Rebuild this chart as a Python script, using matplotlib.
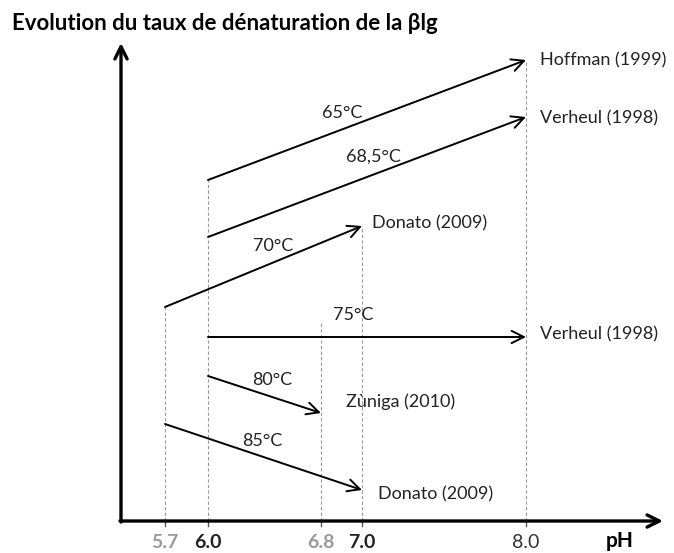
import numpy as np
import matplotlib.pyplot as plt

plt.rcParams['font.family'] = ['Lato', 'DejaVu Sans']

# pH start/end for each temperature, denaturation rate in arbitrary units
temps = ["65°C", "68,5°C", "70°C", "75°C", "80°C", "85°C"]
ph_start = [6.0, 6.0, 5.7, 6.0, 6.0, 5.7]
ph_end = [8.0, 8.0, 7.0, 8.0, 6.8, 7.0]
rate_start = [373, 316, 246, 216, 177, 129]
rate_end = [493, 436, 327, 216, 140, 63]
refs = ["Hoffman (1999)", "Verheul (1998)", "Donato (2009)", "Verheul (1998)", "Zùniga (2010)", "Donato (2009)"]

tick_ph = [5.7, 6.0, 6.8, 7.0, 8.0]
tick_labels = ["5.7", "6.0", "6.8", "7.0", "8.0"]
tick_colors = ["#9a9a9a", "#222222", "#9a9a9a", "#222222", "#333333"]
tick_weights = ["bold", "bold", "bold", "bold", "normal"]

# top of the dashed guide for each pH tick
guide_top = [246, 373, 231, 327, 493]

# the schematic is not drawn to scale: piecewise pH axis
ph_knots = [4.0, 5.7, 6.0, 6.8, 7.0, 8.0, 10.0]
px_knots = [-73, 165, 208, 321, 362, 526, 852]


def fwd(x):
    return np.interp(x, ph_knots, px_knots)


def inv(x):
    return np.interp(x, px_knots, ph_knots)


W, H = 674, 553
fig = plt.figure(figsize=(W / 100, H / 100), dpi=100)
ax = fig.add_axes([0, 0, 1, 1])
ax.set_xscale("function", functions=(fwd, inv))
ax.set_xlim(inv(0), inv(W))
ax.set_ylim(0, H)
ax.axis("off")


def put(px, py, s, **kw):
    fig.text(px / W, 1 - py / H, s, **kw)


x0, y0 = inv(121), 32

# axes
ax.annotate("", xy=(x0, 510), xytext=(x0, y0 - 1),
            arrowprops=dict(arrowstyle="->", lw=2.4, color="black", mutation_scale=22,
                            shrinkA=0, shrinkB=0))
ax.annotate("", xy=(inv(663), y0), xytext=(inv(120), y0),
            arrowprops=dict(arrowstyle="->", lw=2.4, color="black", mutation_scale=22,
                            shrinkA=0, shrinkB=0))

# dashed guides and small ticks
for p, top in zip(tick_ph, guide_top):
    ax.plot([p, p], [y0, top], ls=(0, (3, 2)), lw=0.8, color="#999999", zorder=1)
    ax.plot([p, p], [y0, y0 - 5], lw=1.0, color="#555555")

# temperature arrows
for i in range(len(temps)):
    ax.annotate("", xy=(ph_end[i], rate_end[i]), xytext=(ph_start[i], rate_start[i]),
                arrowprops=dict(arrowstyle="->", lw=1.4, color="black",
                                mutation_scale=22, shrinkA=0, shrinkB=0))

# temperature labels
temp_pos = [(342, 113), (373, 157), (273, 246), (353, 315), (272, 380), (262, 441)]
for t, (px, py) in zip(temps, temp_pos):
    put(px, py, t, ha="center", va="center", fontsize=13, color="#222222")

# reference labels
ref_pos = [(540, 60), (540, 118), (372, 223), (540, 334), (346, 402), (378, 494)]
for r, (px, py) in zip(refs, ref_pos):
    put(px, py, r, ha="left", va="center", fontsize=13, color="#222222")

for p, lab, c, w in zip(tick_ph, tick_labels, tick_colors, tick_weights):
    put(fwd(p), 542, lab, ha="center", va="center", fontsize=14, color=c, fontweight=w)

put(620, 541, "pH", ha="center", va="center", fontsize=15, fontweight="bold")
put(12, 23, "Evolution du taux de dénaturation de la βlg", ha="left", va="center",
    fontsize=16, fontweight="bold")

fig.savefig("out.png", dpi=100)
